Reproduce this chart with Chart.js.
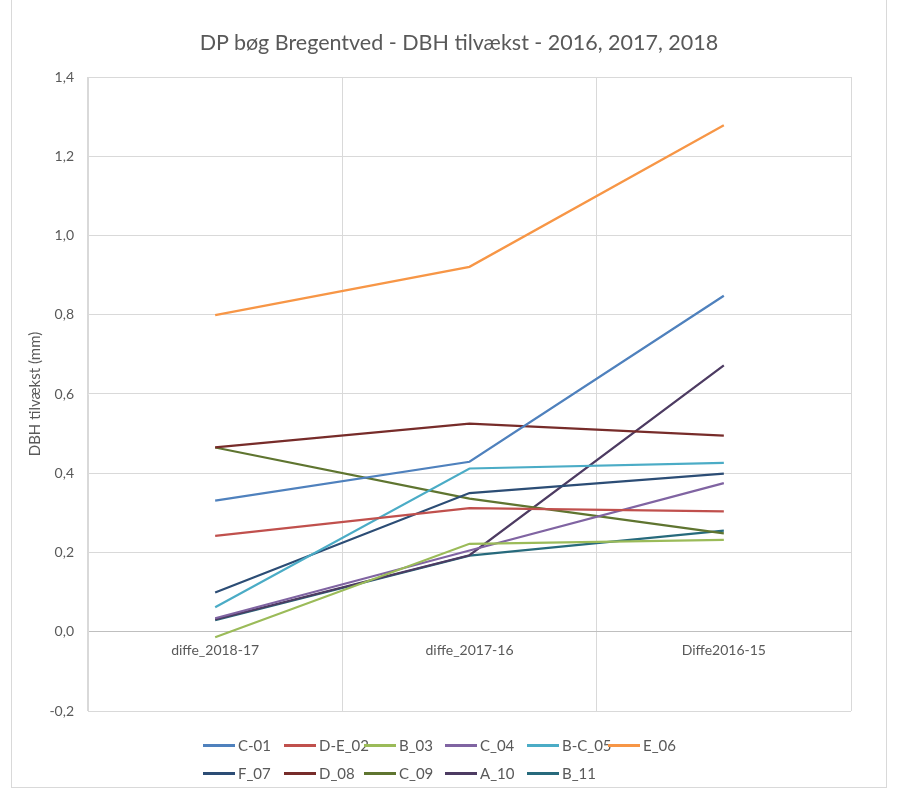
<!DOCTYPE html>
<html>
<head>
<meta charset="utf-8">
<script src="https://cdn.jsdelivr.net/npm/chart.js@4/dist/chart.umd.min.js"></script>
<style>
  html, body { margin: 0; padding: 0; background: #fff; }
  #wrap { position: relative; width: 898px; height: 790px; }
  #frame { position: absolute; left: 11px; top: -1px; width: 876px; height: 789px; border: 1px solid #d9d9d9; box-sizing: border-box; pointer-events: none; }
  #title { position: absolute; left: 159px; width: 600px; top: 29px; text-align: center; line-height: 26px;
           font-family: Lato, "Liberation Sans", sans-serif; font-size: 21.5px; color: #595959; white-space: nowrap; }
  #legend { position: absolute; left: 0; top: 0; width: 898px; height: 790px; pointer-events: none;
            font-family: Lato, "Liberation Sans", sans-serif; font-size: 15px; color: #595959; }
  .item { position: absolute; display: flex; align-items: center; height: 20px; margin-top: -10px; white-space: nowrap; }
  .swatch { width: 32px; height: 3px; margin-right: 3px; }
</style>
</head>
<body>
<div id="wrap">
  <canvas id="chart" width="898" height="790"></canvas>
  <div id="frame"></div>
  <div id="title">DP bøg Bregentved - DBH tilvækst - 2016, 2017, 2018</div>
  <div id="legend"></div>
</div>
<script>
// --- data ---
const categories = ['diffe_2018-17', 'diffe_2017-16', 'Diffe2016-15'];
const seriesNames = ['C-01', 'D-E_02', 'B_03', 'C_04', 'B-C_05', 'E_06', 'F_07', 'D_08', 'C_09', 'A_10', 'B_11'];

const c01   = [0.331, 0.429, 0.848];
const de02  = [0.242, 0.312, 0.304];
const b03   = [-0.014, 0.222, 0.232];
const c04   = [0.034, 0.205, 0.375];
const bc05  = [0.062, 0.412, 0.426];
const e06   = [0.799, 0.921, 1.278];
const f07   = [0.099, 0.350, 0.399];
const d08   = [0.465, 0.525, 0.495];
const c09   = [0.465, 0.336, 0.248];
const a10   = [0.031, 0.193, 0.672];
const b11   = [0.029, 0.192, 0.255];

const yTicks = [-0.2, 0, 0.2, 0.4, 0.6, 0.8, 1.0, 1.2, 1.4];

const seriesValues = [c01, de02, b03, c04, bc05, e06, f07, d08, c09, a10, b11];
const colors = ['#4F81BD', '#C0504D', '#9BBB59', '#8064A2', '#4BACC6', '#F79646',
                '#2C4D75', '#772C2A', '#5F7530', '#4D3B62', '#276A7C'];

const FONT = 'Lato, "Liberation Sans", sans-serif';
const TEXT = '#595959';
const GRID = '#d9d9d9';

const datasets = seriesNames.map((name, i) => ({
    label: name,
    data: seriesValues[i],
    borderColor: colors[i],
    backgroundColor: colors[i],
    borderWidth: 2.25,
    pointRadius: 0,
    pointHoverRadius: 0,
    tension: 0,
    fill: false
}));

const chart = new Chart(document.getElementById('chart'), {
    type: 'line',
    data: { labels: categories, datasets },
    options: {
        responsive: false,
        animation: false,
        layout: { padding: { left: 0, right: 47, top: 77, bottom: 79 } },
        plugins: {
            legend: { display: false },
            tooltip: { enabled: false },
            title: { display: false }
        },
        scales: {
            x: {
                position: { y: 0 },
                offset: true,
                grid: { color: GRID, offset: true, drawTicks: false, lineWidth: 1 },
                border: { color: '#bfbfbf' },
                ticks: { color: TEXT, font: { family: FONT, size: 14 }, padding: 10, maxRotation: 0 }
            },
            y: {
                min: -0.2,
                max: 1.4,
                afterBuildTicks: (scale) => { scale.ticks = yTicks.map(v => ({ value: v })); },
                afterFit: (scale) => { scale.width = 88; },
                grid: { color: GRID, drawTicks: false },
                border: { color: GRID },
                ticks: {
                    color: TEXT,
                    font: { family: FONT, size: 14 },
                    padding: 14,
                    callback: (v) => Number(v).toFixed(1).replace('.', ',')
                },
                title: {
                    display: true,
                    text: 'DBH tilvækst (mm)',
                    color: TEXT,
                    font: { family: FONT, size: 15 },
                    padding: { top: 26, bottom: 4 }
                }
            }
        }
    }
});

// --- legend laid out in columns like the original ---
const legendEl = document.getElementById('legend');
const colX = [203, 284, 364, 445, 527, 608];
const rowY = [745, 773];
chart.data.datasets.forEach((ds, i) => {
    const item = document.createElement('div');
    item.className = 'item';
    item.style.left = colX[i % 6] + 'px';
    item.style.top = rowY[Math.floor(i / 6)] + 'px';
    item.innerHTML = `<span class="swatch" style="background:${ds.borderColor}"></span>${ds.label}`;
    legendEl.appendChild(item);
});
</script>
</body>
</html>
